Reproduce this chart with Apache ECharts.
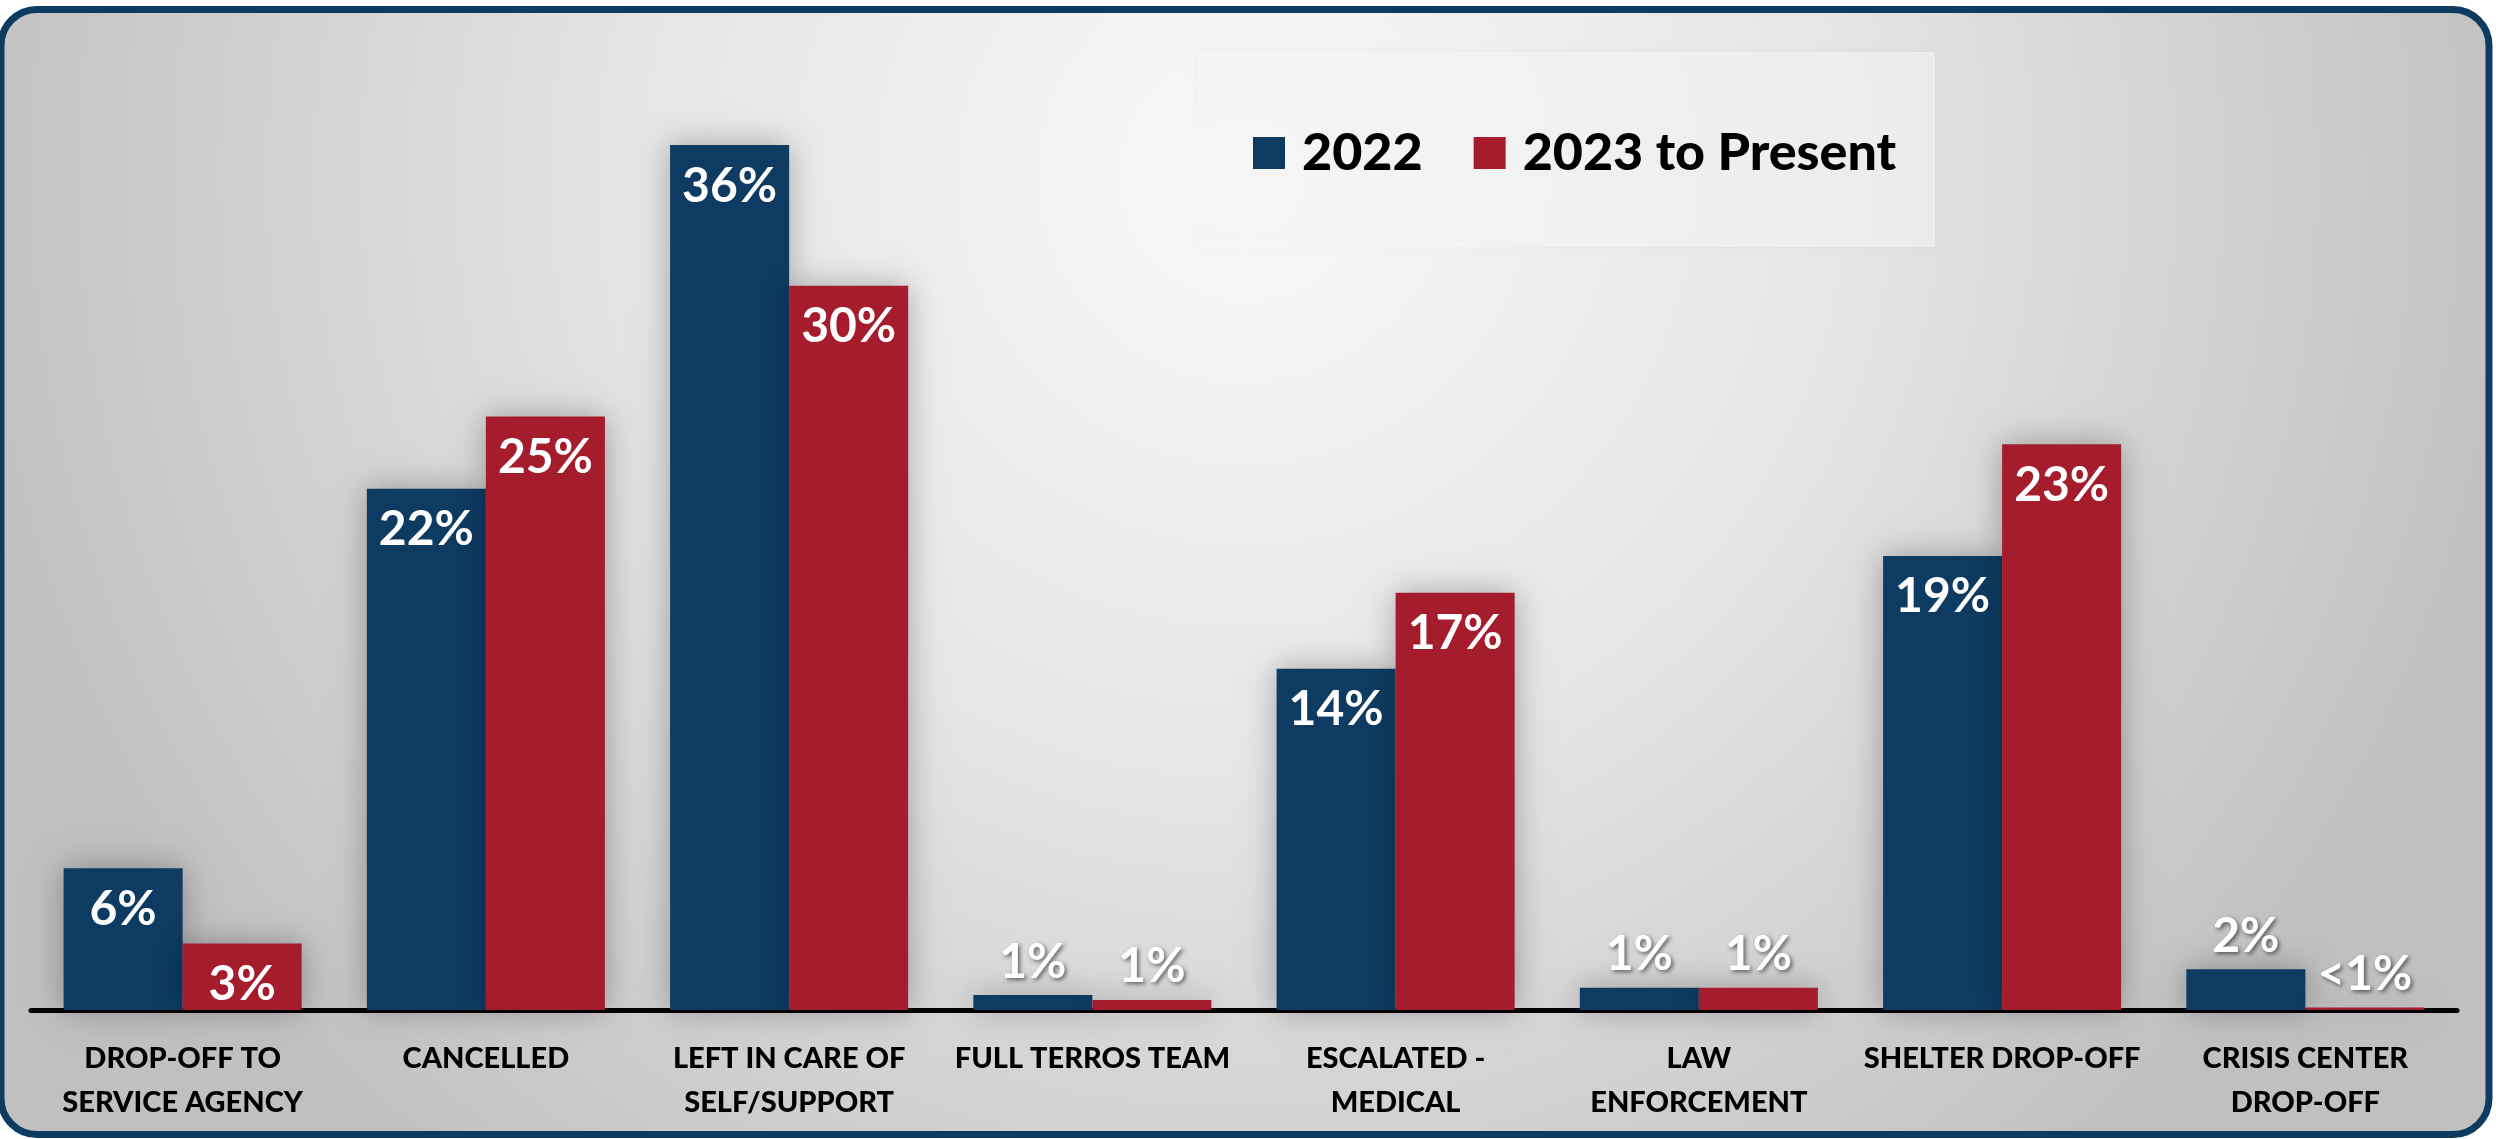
<!DOCTYPE html>
<html>
<head>
<meta charset="utf-8">
<script src="https://cdn.jsdelivr.net/npm/echarts@6/dist/echarts.min.js"></script>
<style>
html,body{margin:0;padding:0;background:#ffffff;}
#chart{width:2496px;height:1139px;}
</style>
</head>
<body>
<div id="chart"></div>
<script>
const categories = ['DROP-OFF TO\nSERVICE AGENCY', 'CANCELLED', 'LEFT IN CARE OF\nSELF/SUPPORT', 'FULL TERROS TEAM', 'ESCALATED -\nMEDICAL', 'LAW\nENFORCEMENT', 'SHELTER DROP-OFF', 'CRISIS CENTER\nDROP-OFF'];
const seriesNames = ['2022', '2023 to Present'];
const values2022 = [5.9, 21.7, 36.0, 0.62, 14.2, 0.93, 18.9, 1.7];
const values2023 = [2.77, 24.7, 30.15, 0.42, 17.37, 0.93, 23.55, 0.1];
const labels2022 = ['6%', '22%', '36%', '1%', '14%', '1%', '19%', '2%'];
const labels2023 = ['3%', '25%', '30%', '1%', '17%', '1%', '23%', '<1%'];

const FONT = 'Lato, "Open Sans", sans-serif';
const colors = ['#0d3b61', '#a51c2c'];

function buildData(values, labels) {
  return values.map((v, i) => {
    const inside = v >= 2.5;
    return {
      value: v,
      label: inside ? {
        position: 'insideTop', distance: 17, formatter: labels[i]
      } : {
        position: 'top', distance: 9, formatter: labels[i],
        textShadowColor: 'rgba(0,0,0,0.55)', textShadowBlur: 4,
        textShadowOffsetX: 2, textShadowOffsetY: 2
      }
    };
  });
}

const chart = echarts.init(document.getElementById('chart'), null, {renderer: 'canvas'});
const barLabel = {show: true, color: '#ffffff', fontFamily: FONT, fontWeight: 'bold', fontSize: 48};
const barShadow = {shadowBlur: 30, shadowColor: 'rgba(0,0,0,0.3)'};

chart.setOption({
  animation: false,
  backgroundColor: '#ffffff',
  graphic: [
    {
      type: 'rect', z: -100, silent: true,
      shape: {x: 1, y: 9.5, width: 2488, height: 1125, r: 36},
      style: {
        fill: {
          type: 'radial', x: 0.5, y: 0.15, r: 1.15,
          colorStops: [
            {offset: 0, color: '#f8f8f8'},
            {offset: 0.45, color: '#e6e6e6'},
            {offset: 1, color: '#c0c0c0'}
          ]
        },
        stroke: '#0d3b62', lineWidth: 7
      }
    },
    {
      type: 'rect', z: -50, silent: true,
      shape: {x: 1197, y: 52, width: 738, height: 195},
      style: {
        fill: 'rgba(250,250,250,0.55)',
        shadowBlur: 6, shadowColor: 'rgba(0,0,0,0.06)'
      }
    }
  ],
  legend: {
    left: 1248, top: 122,
    itemWidth: 32, itemHeight: 32, itemGap: 51,
    icon: 'rect',
    data: seriesNames,
    textStyle: {fontFamily: FONT, fontWeight: 900, fontSize: 52, color: '#000000', padding: [0, 0, 0, 12]}
  },
  grid: {left: 31, right: 39, top: 49, bottom: 129},
  xAxis: {
    type: 'category',
    data: categories,
    axisLine: {lineStyle: {color: '#000000', width: 5}},
    axisTick: {length: 13, lineStyle: {color: '#000000', width: 4}},
    axisLabel: {
      interval: 0, margin: 27, color: '#000000',
      fontFamily: FONT, fontWeight: 900, fontSize: 29, lineHeight: 44
    }
  },
  yAxis: {type: 'value', min: 0, max: 40, show: false, splitLine: {show: false}},
  series: [
    {
      name: seriesNames[0], type: 'bar', barGap: '0%', barCategoryGap: '21.5%',
      itemStyle: Object.assign({color: colors[0]}, barShadow),
      label: barLabel,
      data: buildData(values2022, labels2022)
    },
    {
      name: seriesNames[1], type: 'bar', barGap: '0%', barCategoryGap: '21.5%',
      itemStyle: Object.assign({color: colors[1]}, barShadow),
      label: barLabel,
      data: buildData(values2023, labels2023)
    }
  ]
});
</script>
</body>
</html>
